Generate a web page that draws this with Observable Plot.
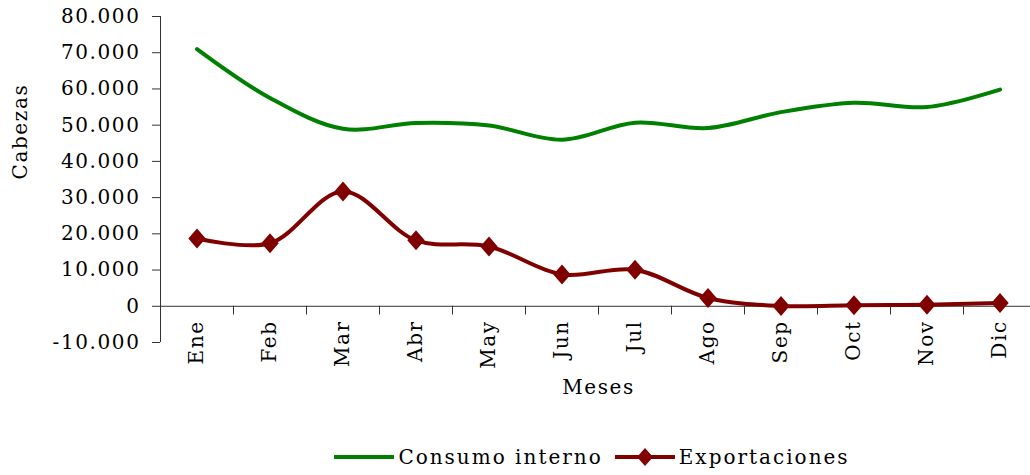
<!DOCTYPE html>
<html><head><meta charset="utf-8">
<script src="https://cdn.jsdelivr.net/npm/d3@7"></script>
<script src="https://cdn.jsdelivr.net/npm/@observablehq/plot@0.6"></script>
<style>
body{margin:0;background:#fff;font-family:"DejaVu Serif",serif;color:#000;}
#chart svg{display:block;overflow:visible}
.legend{margin-top:14px;margin-left:163px;width:870px;display:flex;justify-content:center;align-items:center;font-size:20px;letter-spacing:2px;height:26px;line-height:26px;white-space:nowrap}
.legend .item{display:flex;align-items:center;margin-right:12px}
.legend svg{display:block;margin-right:4px}
</style></head><body>
<div id="chart"></div>
<div class="legend" id="legend"></div>
<script>
const months = ["Ene","Feb","Mar","Abr","May","Jun","Jul","Ago","Sep","Oct","Nov","Dic"];
const consumoInterno = [71000, 57500, 49000, 50600, 49900, 46000, 50700, 49200, 53600, 56200, 55000, 59800];
const exportaciones = [18700, 17400, 31700, 18200, 16500, 8800, 10100, 2300, 100, 280, 450, 900];
const yTicks = [-10000, 0, 10000, 20000, 30000, 40000, 50000, 60000, 70000, 80000];
const seriesNames = ["Consumo interno", "Exportaciones"];
const seriesColors = ["#008000", "#800000"];

const fmt = d3.formatLocale({decimal: ",", thousands: ".", grouping: [3], currency: ["", ""], minus: "-"}).format(",.0f");

const rows = [];
months.forEach((m, i) => {
  rows.push({mes: m, pos: i + 0.5, serie: seriesNames[0], valor: consumoInterno[i]});
  rows.push({mes: m, pos: i + 0.5, serie: seriesNames[1], valor: exportaciones[i]});
});
const green = rows.filter(d => d.serie === seriesNames[0]);
const red = rows.filter(d => d.serie === seriesNames[1]);

const diamond = {
  draw(context, size) {
    const r = Math.sqrt(size / Math.PI);
    const w = r, h = r * 1.15;
    context.moveTo(0, -h); context.lineTo(w, 0); context.lineTo(0, h); context.lineTo(-w, 0); context.closePath();
  }
};

const plot = Plot.plot({
  width: 1030, height: 430,
  marginLeft: 160, marginRight: -6, marginTop: 16, marginBottom: 88,
  style: {fontFamily: "DejaVu Serif", fontSize: "20px", letterSpacing: "1.6px", color: "#000", background: "#fff", overflow: "visible"},
  x: {domain: [0, 12], axis: null},
  y: {domain: [-10000, 80000], axis: null},
  marks: [
    Plot.axisY({ticks: yTicks, tickFormat: fmt, tickSize: 8, tickPadding: 12, label: null, fontSize: 20, stroke: "#333"}),
    Plot.ruleX([0], {y1: -10000, y2: 80000, stroke: "#333"}),
    Plot.ruleY([0], {stroke: "#333"}),
    Plot.vector(d3.range(1, 13), {x: d => d, y: 0, length: 8, rotate: 180, anchor: "start", shape: "spike", r: 0, stroke: "#333", strokeWidth: 1, fill: "none"}),
    Plot.text(months, {x: (d, i) => i + 0.5, y: 0, text: d => d, rotate: -90, textAnchor: "end", dy: 14, fontSize: 20}),
    Plot.text(["Cabezas"], {frameAnchor: "left", text: d => d, rotate: -90, dx: -140, fontSize: 20}),
    Plot.text(["Meses"], {frameAnchor: "bottom", text: d => d, dy: 51, fontSize: 20}),
    Plot.line(green, {x: "pos", y: "valor", stroke: seriesColors[0], strokeWidth: 4, curve: "catmull-rom"}),
    Plot.line(red, {x: "pos", y: "valor", stroke: seriesColors[1], strokeWidth: 4, curve: "catmull-rom"}),
    Plot.dot(red, {x: "pos", y: "valor", symbol: diamond, r: 8.7, fill: seriesColors[1], stroke: "none"})
  ]
});
document.getElementById("chart").appendChild(plot);

const legend = document.getElementById("legend");
seriesNames.forEach((name, i) => {
  const item = document.createElement("span");
  item.className = "item";
  const marker = i === 1 ? `<path d="M30,2 L38,11 L30,20 L22,11 Z" fill="${seriesColors[i]}"/>` : "";
  item.innerHTML = `<svg width="60" height="22"><line x1="0" x2="60" y1="11" y2="11" stroke="${seriesColors[i]}" stroke-width="4"/>${marker}</svg><span>${name}</span>`;
  legend.appendChild(item);
});
</script>
</body></html>
